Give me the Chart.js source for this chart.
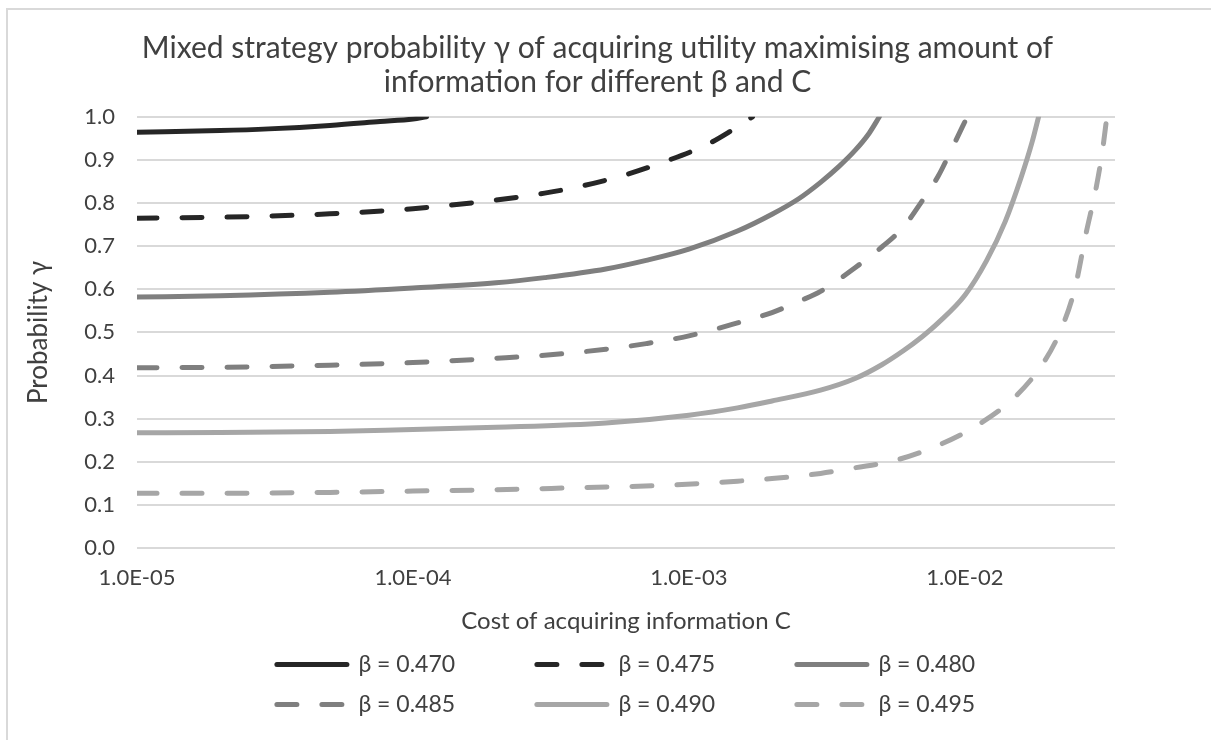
<!DOCTYPE html>
<html>
<head>
<meta charset="utf-8">
<script src="https://cdn.jsdelivr.net/npm/chart.js@4"></script>
<style>
  html, body { margin: 0; padding: 0; background: #fff; }
  #frame { position: absolute; left: 6px; top: 8px; width: 1300px; height: 900px; border: 2px solid #d9d9d9; }
  #wrap { position: absolute; left: 0; top: 0; width: 1211px; height: 740px; }
</style>
</head>
<body>
<div id="frame"></div>
<div id="wrap"><canvas id="chart" width="1211" height="740"></canvas></div>
<script>
// tick values / labels
const xTickValues = [1e-5, 1e-4, 1e-3, 1e-2];
const xTickLabels = ['1.0E-05', '1.0E-04', '1.0E-03', '1.0E-02'];

// series: cost C and probability gamma
const cost470 = [1e-5, 2e-5, 3e-5, 5e-5, 7.6e-5, 1e-4, 1.12e-4];
const prob470 = [0.964, 0.968, 0.972, 0.980, 0.989, 0.995, 1.0];

const cost475 = [1e-5, 2e-5, 5e-5, 1e-4, 2e-4, 3e-4, 4e-4, 6e-4, 8e-4, 1.15e-3, 1.4e-3, 1.7e-3];
const prob475 = [0.765, 0.767, 0.775, 0.787, 0.807, 0.823, 0.838, 0.867, 0.894, 0.934, 0.965, 1.0];

const cost480 = [1e-5, 2e-5, 5e-5, 1e-4, 2e-4, 3e-4, 5e-4, 7e-4, 1e-3, 1.5e-3, 2e-3, 2.5e-3, 3e-3, 3.5e-3, 4e-3, 4.5e-3, 4.9e-3];
const prob480 = [0.582, 0.585, 0.593, 0.603, 0.615, 0.627, 0.647, 0.667, 0.693, 0.735, 0.774, 0.810, 0.848, 0.885, 0.922, 0.962, 1.0];

const cost485 = [1e-5, 2e-5, 5e-5, 1e-4, 2e-4, 3e-4, 5e-4, 7e-4, 1e-3, 1.5e-3, 2e-3, 2.5e-3, 3e-3, 4e-3, 5e-3, 6e-3, 7e-3, 8e-3, 9e-3, 1.02e-2];
const prob485 = [0.418, 0.419, 0.424, 0.430, 0.440, 0.447, 0.461, 0.474, 0.492, 0.522, 0.546, 0.572, 0.595, 0.650, 0.698, 0.745, 0.805, 0.862, 0.928, 1.0];

const cost490 = [1e-5, 2e-5, 5e-5, 1e-4, 2e-4, 5e-4, 1e-3, 1.5e-3, 2e-3, 3e-3, 4e-3, 5e-3, 6e-3, 7e-3, 8e-3, 1e-2, 1.2e-2, 1.4e-2, 1.6e-2, 1.75e-2, 1.85e-2];
const prob490 = [0.267, 0.268, 0.270, 0.275, 0.280, 0.290, 0.308, 0.325, 0.341, 0.366, 0.393, 0.425, 0.458, 0.490, 0.522, 0.586, 0.667, 0.757, 0.86, 0.94, 1.0];

const cost495 = [1e-5, 2e-5, 5e-5, 1e-4, 2e-4, 4e-4, 8e-4, 1.5e-3, 2e-3, 3e-3, 4e-3, 5.5e-3, 8e-3, 1.1e-2, 1.5e-2, 1.9e-2, 2.2e-2, 2.5e-2, 2.75e-2, 3e-2, 3.15e-2, 3.27e-2];
const prob495 = [0.127, 0.127, 0.129, 0.132, 0.135, 0.140, 0.145, 0.155, 0.161, 0.173, 0.186, 0.202, 0.238, 0.283, 0.347, 0.424, 0.498, 0.60, 0.73, 0.84, 0.92, 1.0];

const seriesNames = ['β = 0.470', 'β = 0.475', 'β = 0.480', 'β = 0.485', 'β = 0.490', 'β = 0.495'];
const seriesCosts = [cost470, cost475, cost480, cost485, cost490, cost495];
const seriesProbs = [prob470, prob475, prob480, prob485, prob490, prob495];
const seriesColors = ['#262626', '#262626', '#7f7f7f', '#7f7f7f', '#a6a6a6', '#a6a6a6'];
const seriesDashed = [false, true, false, true, false, true];

const FONT = "Lato, 'Open Sans', sans-serif";
const PAD = '           '; // trailing room so legend columns line up

const datasets = seriesNames.map((name, i) => ({
  label: (i % 3 === 2) ? name : name + PAD,
  data: seriesCosts[i].map((c, j) => ({ x: c, y: seriesProbs[i][j] })),
  borderColor: seriesColors[i],
  backgroundColor: seriesColors[i],
  borderWidth: 5,
  borderDash: seriesDashed[i] ? [20, 25] : [],
  borderCapStyle: 'round',
  pointRadius: 0,
  pointHoverRadius: 0,
  cubicInterpolationMode: 'monotone',
  fill: false
}));

new Chart(document.getElementById('chart'), {
  type: 'line',
  data: { datasets: datasets },
  options: {
    responsive: false,
    animation: false,
    layout: { padding: { left: 0, right: 16, top: 0, bottom: 14 } },
    plugins: {
      title: {
        display: true,
        text: ['Mixed strategy probability γ of acquiring utility maximising amount of',
               'information for different β and C'],
        color: '#404040',
        font: { family: FONT, size: 30, weight: 'normal', lineHeight: 1.13 },
        padding: { top: 31, bottom: 18 }
      },
      legend: {
        position: 'bottom',
        fullSize: false,
        labels: {
          usePointStyle: true,
          pointStyle: 'line',
          pointStyleWidth: 70,
          padding: 17,
          color: '#404040',
          font: { family: FONT, size: 23 },
          generateLabels: function(chart) {
            return chart.data.datasets.map((ds, i) => ({
              text: ds.label,
              datasetIndex: i,
              fillStyle: ds.borderColor,
              strokeStyle: ds.borderColor,
              fontColor: '#404040',
              lineWidth: ds.borderWidth,
              lineDash: ds.borderDash,
              lineCap: 'round',
              pointStyle: 'line',
              hidden: false
            }));
          }
        }
      },
      tooltip: { enabled: false }
    },
    scales: {
      x: {
        type: 'logarithmic',
        min: 1e-5,
        max: 0.035,
        afterBuildTicks: function(scale) {
          scale.ticks = xTickValues.map(v => ({ value: v }));
        },
        afterFit: function(scale) { scale.height = 88; },
        ticks: {
          autoSkip: false,
          maxRotation: 0,
          padding: 17,
          color: '#404040',
          font: { family: FONT, size: 22 },
          callback: function(value, index) { return xTickLabels[index]; }
        },
        grid: { display: false, drawTicks: false },
        border: { display: false },
        title: {
          display: true,
          text: 'Cost of acquiring information C',
          color: '#404040',
          font: { family: FONT, size: 24, lineHeight: 1.1 },
          padding: { top: 4, bottom: 2 }
        }
      },
      y: {
        min: 0,
        max: 1,
        afterFit: function(scale) { scale.width = 137; },
        ticks: {
          stepSize: 0.1,
          padding: 22,
          color: '#404040',
          font: { family: FONT, size: 22 },
          callback: function(value) { return value.toFixed(1); }
        },
        grid: { color: '#d9d9d9', lineWidth: 2, drawTicks: false },
        border: { display: false },
        title: {
          display: true,
          text: 'Probability γ',
          color: '#404040',
          font: { family: FONT, size: 26, lineHeight: 1.2 },
          padding: { top: 23, bottom: 4 }
        }
      },
      // empty right-hand margin inside the chart (keeps the plot narrower than the title)
      yRight: {
        position: 'right',
        min: 0,
        max: 1,
        afterFit: function(scale) { scale.width = 80; },
        ticks: { display: false },
        grid: { display: false, drawTicks: false },
        border: { display: false }
      }
    }
  }
});
</script>
</body>
</html>
